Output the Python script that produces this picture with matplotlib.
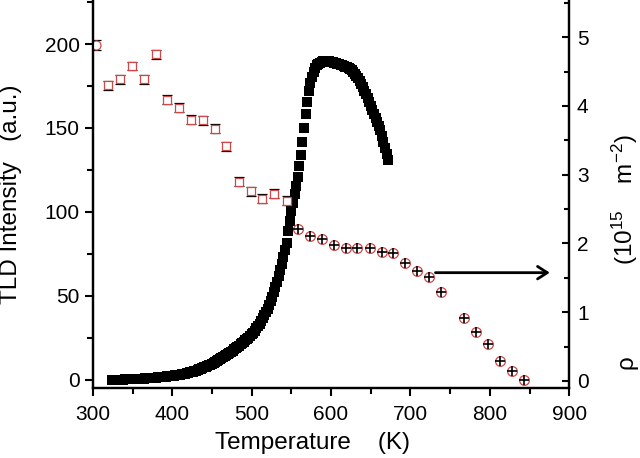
import matplotlib
matplotlib.use("Agg")
import matplotlib.pyplot as plt
from matplotlib.ticker import MultipleLocator

plt.rcParams['font.family'] = ['Liberation Sans', 'DejaVu Sans']
plt.rcParams['mathtext.fontset'] = 'custom'
plt.rcParams['mathtext.rm'] = 'Liberation Sans'
plt.rcParams['mathtext.it'] = 'Liberation Sans:italic'

# TLD spectrum (left axis)
temp_tld = [324, 326, 328, 330, 332, 334, 336, 338, 340, 342, 344, 346, 348, 350,
            352, 354, 356, 358, 360, 362, 364, 366, 368, 370, 372, 374, 376, 378,
            380, 382, 384, 386, 388, 390, 392, 394, 396, 398, 400, 402, 404, 406,
            408, 410, 412, 414, 416, 418, 420, 422, 424, 426, 428, 430, 432, 434,
            436, 438, 440, 442, 444, 446, 448, 450, 452, 454, 456, 458, 460, 462,
            464, 466, 468, 470, 472, 474, 476, 478, 480, 482, 484, 486, 488, 490,
            492, 494, 496, 498, 500, 502, 504, 506, 508, 510, 512, 514, 516, 518,
            520, 522, 524, 526, 528, 530, 532, 534, 536, 538, 540, 542, 544, 546,
            548, 550, 552, 554, 556, 558, 560, 562, 564, 566, 568, 570, 572, 574,
            576, 578, 580, 582, 584, 586, 588, 590, 592, 594, 596, 598, 600, 602,
            604, 606, 608, 610, 612, 614, 616, 618, 620, 622, 624, 626, 628, 630,
            632, 634, 636, 638, 640, 642, 644, 646, 648, 650, 652, 654, 656, 658,
            660, 662, 664, 666, 668, 670, 672]
tld = [0.0, 0.0, 0.05, 0.1, 0.1, 0.15, 0.2, 0.2, 0.25, 0.3, 0.3, 0.35, 0.4, 0.45,
       0.5, 0.55, 0.6, 0.65, 0.7, 0.75, 0.8, 0.85, 0.9, 0.95, 1.0, 1.1, 1.2, 1.3,
       1.4, 1.5, 1.6, 1.7, 1.8, 1.9, 2.0, 2.1, 2.2, 2.3, 2.4, 2.55, 2.7, 2.85,
       3.0, 3.2, 3.4, 3.6, 3.8, 4.0, 4.2, 4.45, 4.7, 4.95, 5.2, 5.5, 5.85, 6.2,
       6.6, 7.0, 7.4, 7.8, 8.2, 8.6, 9.0, 9.5, 10.0, 10.5, 11.0, 11.6, 12.2, 12.8,
       13.4, 14.0, 14.6, 15.3, 16.0, 16.7, 17.4, 18.1, 18.8, 19.6, 20.4, 21.2, 22.0, 22.8,
       23.6, 24.4, 25.2, 26.0, 27.1, 28.2, 29.4, 30.7, 32.0, 33.5, 35.0, 36.6, 38.4, 40.2,
       42.2, 44.4, 46.8, 49.4, 52.2, 55.2, 58.4, 61.8, 65.4, 69.2, 73.2, 77.4, 81.8, 88.4,
       94.8, 100.4, 105.6, 110.4, 115.4, 121.0, 127.2, 134.0, 141.4, 149.8, 158.2, 165.6, 171.8, 176.8,
       180.6, 183.6, 185.8, 187.2, 188.2, 188.9, 189.4, 189.7, 189.9, 190.0, 189.9, 189.7, 189.4, 189.1,
       188.8, 188.5, 188.2, 187.9, 187.6, 187.3, 187.0, 186.6, 186.2, 185.7, 185.1, 184.4, 183.5, 182.4,
       181.2, 179.8, 178.2, 176.4, 174.4, 172.3, 170.1, 167.8, 165.5, 163.2, 160.9, 158.6, 156.2, 153.7,
       151.3, 148.6, 145.4, 141.8, 138.2, 134.6, 131.0]

# rho (right axis)
temp_rho = [304, 319, 334, 349, 364, 379, 394, 408, 424, 439, 454, 468, 484, 499,
            513, 528, 544, 559, 573, 588, 604, 619, 633, 649, 664, 678, 693, 708,
            723, 738, 768, 783, 798, 813, 828, 843]
rho = [4.89, 4.30, 4.39, 4.58, 4.39, 4.75, 4.09, 3.97, 3.80, 3.79, 3.67, 3.41,
       2.90, 2.76, 2.65, 2.72, 2.62, 2.21, 2.11, 2.07, 1.97, 1.93, 1.93, 1.93,
       1.88, 1.86, 1.71, 1.60, 1.51, 1.29, 0.92, 0.71, 0.53, 0.29, 0.14, 0.01]
n_square = 17  # first 17 points have caps, the rest are crossed circles

red = '#d04848'

fig = plt.figure(figsize=(6.4, 4.58), dpi=100)
ax = fig.add_axes([0.145, 0.152, 0.7445, 0.848])
ax2 = ax.twinx()

ax.plot(temp_tld, tld, 's', color='black', markersize=6.5, markeredgewidth=0)

# rho points
ax2.errorbar(temp_rho[:1], rho[:1], yerr=0.075, fmt='o', ms=6.5, mfc='white',
             mec=red, mew=0.9, ecolor='black', elinewidth=0, capsize=3.5, capthick=1.6)
ax2.errorbar(temp_rho[1:n_square], rho[1:n_square], yerr=0.065, fmt='s', ms=6,
             mfc='white', mec=red, mew=0.9, ecolor='black', elinewidth=0,
             capsize=3.5, capthick=1.6)
ax2.plot(temp_rho[n_square:], rho[n_square:], 'o', ms=7, mfc='white', mec=red, mew=0.9)
ax2.plot(temp_rho[n_square:], rho[n_square:], '+', ms=7, color='black', mew=1.2)

ax2.annotate('', xy=(879, 1.574), xytext=(728, 1.574),
             arrowprops=dict(arrowstyle='->,head_length=0.7,head_width=0.45',
                             lw=2, color='black'))

ax.set_xlim(300, 900)
ax.set_ylim(-5.06, 226.2)
ax2.set_ylim(-0.109, 5.54)

ax.xaxis.set_major_locator(MultipleLocator(100))
ax.xaxis.set_minor_locator(MultipleLocator(50))
ax.yaxis.set_major_locator(MultipleLocator(50))
ax.yaxis.set_minor_locator(MultipleLocator(25))
ax2.yaxis.set_major_locator(MultipleLocator(1))
ax2.yaxis.set_minor_locator(MultipleLocator(0.5))

for a in (ax, ax2):
    a.spines['top'].set_visible(False)
    for s in a.spines.values():
        s.set_linewidth(1.6)

ax.tick_params(which='major', direction='out', length=6, width=1.5, labelsize=15)
ax.tick_params(which='minor', direction='out', length=4, width=1.5)
ax.tick_params(axis='x', which='major', pad=6)
ax2.tick_params(which='major', direction='in', length=5, width=1.5, labelsize=15, pad=5.5)
ax2.tick_params(which='minor', direction='in', length=3.5, width=1.5)

ax.set_xlabel('Temperature    (K)', fontsize=17.5)
ax.xaxis.set_label_coords(0.461, -0.112)
ax.set_ylabel('TLD Intensity   (a.u.)', fontsize=17.5)
ax.yaxis.set_label_coords(-0.148, 0.5)

# right axis label, split like the original
fig.text(0.979, 1 - 362 / 458, 'ρ', rotation=90, ha='center', va='center', fontsize=17.5)
fig.text(0.977, 1 - 200 / 458, r'(10$^{\mathrm{15}}$    m$^{\mathrm{-2}}$)', rotation=90,
         ha='center', va='center', fontsize=17.5)

fig.savefig('out.png', dpi=100)
